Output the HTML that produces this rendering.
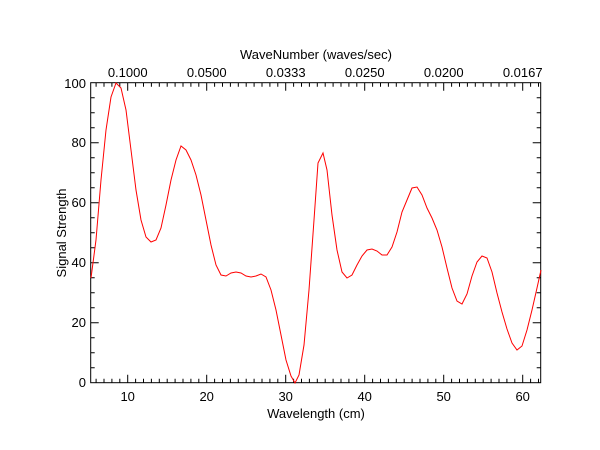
<!DOCTYPE html>
<html><head><style>body{margin:0;background:#fff}svg{display:block}text{font-family:"Liberation Sans",Arial,sans-serif;font-size:13px;fill:#000}</style></head>
<body>
<svg width="600" height="450" xmlns="http://www.w3.org/2000/svg">
<rect x="90.7" y="82.7" width="450" height="300" fill="none" stroke="#000" stroke-width="1"/>
<path stroke="#000" stroke-width="1" fill="none" d="
M96.1 382.7v-4M104 382.7v-4M111.9 382.7v-4M119.8 382.7v-4M127.7 382.7v-8M135.6 382.7v-4M143.5 382.7v-4M151.4 382.7v-4M159.3 382.7v-4M167.2 382.7v-4M175.1 382.7v-4M183 382.7v-4M190.9 382.7v-4M198.8 382.7v-4M206.7 382.7v-8M214.6 382.7v-4M222.5 382.7v-4M230.4 382.7v-4M238.3 382.7v-4M246.2 382.7v-4M254.1 382.7v-4M262 382.7v-4M269.9 382.7v-4M277.8 382.7v-4M285.7 382.7v-8M293.6 382.7v-4M301.5 382.7v-4M309.4 382.7v-4M317.3 382.7v-4M325.2 382.7v-4M333.1 382.7v-4M341 382.7v-4M348.9 382.7v-4M356.8 382.7v-4M364.7 382.7v-8M372.6 382.7v-4M380.5 382.7v-4M388.4 382.7v-4M396.3 382.7v-4M404.2 382.7v-4M412.1 382.7v-4M420 382.7v-4M427.9 382.7v-4M435.8 382.7v-4M443.7 382.7v-8M451.6 382.7v-4M459.5 382.7v-4M467.4 382.7v-4M475.3 382.7v-4M483.2 382.7v-4M491.1 382.7v-4M499 382.7v-4M506.9 382.7v-4M514.8 382.7v-4M522.7 382.7v-8M530.6 382.7v-4M538.5 382.7v-4
M96.1 82.7v4M104 82.7v4M111.9 82.7v4M119.8 82.7v4M127.7 82.7v8M135.6 82.7v4M143.5 82.7v4M151.4 82.7v4M159.3 82.7v4M167.2 82.7v4M175.1 82.7v4M183 82.7v4M190.9 82.7v4M198.8 82.7v4M206.7 82.7v8M214.6 82.7v4M222.5 82.7v4M230.4 82.7v4M238.3 82.7v4M246.2 82.7v4M254.1 82.7v4M262 82.7v4M269.9 82.7v4M277.8 82.7v4M285.7 82.7v8M293.6 82.7v4M301.5 82.7v4M309.4 82.7v4M317.3 82.7v4M325.2 82.7v4M333.1 82.7v4M341 82.7v4M348.9 82.7v4M356.8 82.7v4M364.7 82.7v8M372.6 82.7v4M380.5 82.7v4M388.4 82.7v4M396.3 82.7v4M404.2 82.7v4M412.1 82.7v4M420 82.7v4M427.9 82.7v4M435.8 82.7v4M443.7 82.7v8M451.6 82.7v4M459.5 82.7v4M467.4 82.7v4M475.3 82.7v4M483.2 82.7v4M491.1 82.7v4M499 82.7v4M506.9 82.7v4M514.8 82.7v4M522.7 82.7v8M530.6 82.7v4M538.5 82.7v4
M90.7 367.7h4M90.7 352.7h4M90.7 337.7h4M90.7 322.7h8M90.7 307.7h4M90.7 292.7h4M90.7 277.7h4M90.7 262.7h8M90.7 247.7h4M90.7 232.7h4M90.7 217.7h4M90.7 202.7h8M90.7 187.7h4M90.7 172.7h4M90.7 157.7h4M90.7 142.7h8M90.7 127.7h4M90.7 112.7h4M90.7 97.7h4
M540.7 367.7h-4M540.7 352.7h-4M540.7 337.7h-4M540.7 322.7h-8M540.7 307.7h-4M540.7 292.7h-4M540.7 277.7h-4M540.7 262.7h-8M540.7 247.7h-4M540.7 232.7h-4M540.7 217.7h-4M540.7 202.7h-8M540.7 187.7h-4M540.7 172.7h-4M540.7 157.7h-4M540.7 142.7h-8M540.7 127.7h-4M540.7 112.7h-4M540.7 97.7h-4"/>
<polyline fill="none" stroke="#ff0000" stroke-width="1" points="91,278 96,240 101,180 106,130 111,97 116,83 121,88 126,110 131,150 136,190 141,220 146,237 151,242 156,240 161,228 166,205 171,180 176,160 181,146 186,150 191,160 196,175 201,195 206,220 211,245 216,265 221,275 226,276 231,273 236,272 241,273 246,276 251,277 256,276 261,274 266,277 271,290 276,310 281,335 286,360 291,376 295,383 299,375 304,345 309,290 314,220 318,163 323,153 327,170 332,215 337,250 342,272 347,278 352,275 357,265 362,256 367,250 372,249 377,251 382,255 387,255 392,247 397,232 402,212 407,200 412,188 417,187 422,195 427,208 432,218 437,230 442,247 447,268 452,288 457,301 462,304 467,294 472,276 477,262 482,256 487,258 492,272 497,293 502,312 507,329 512,343 517,350 522,346 527,330 532,310 537,288 541,270"/>
<g text-anchor="end">
<text x="86" y="387">0</text><text x="86" y="327">20</text><text x="86" y="267">40</text><text x="86" y="207">60</text><text x="86" y="147">80</text><text x="86" y="88">100</text>
</g>
<g text-anchor="middle">
<text x="127.7" y="401">10</text><text x="206.7" y="401">20</text><text x="285.7" y="401">30</text><text x="364.7" y="401">40</text><text x="443.7" y="401">50</text><text x="522.7" y="401">60</text>
<text x="127.7" y="77">0.1000</text><text x="206.7" y="77">0.0500</text><text x="285.7" y="77">0.0333</text><text x="364.7" y="77">0.0250</text><text x="443.7" y="77">0.0200</text><text x="522.7" y="77">0.0167</text>
<text x="316" y="418">Wavelength (cm)</text>
<text x="316" y="59">WaveNumber (waves/sec)</text>
<text x="0" y="0" transform="translate(66,233) rotate(-90)">Signal Strength</text>
</g>
</svg>
</body></html>
